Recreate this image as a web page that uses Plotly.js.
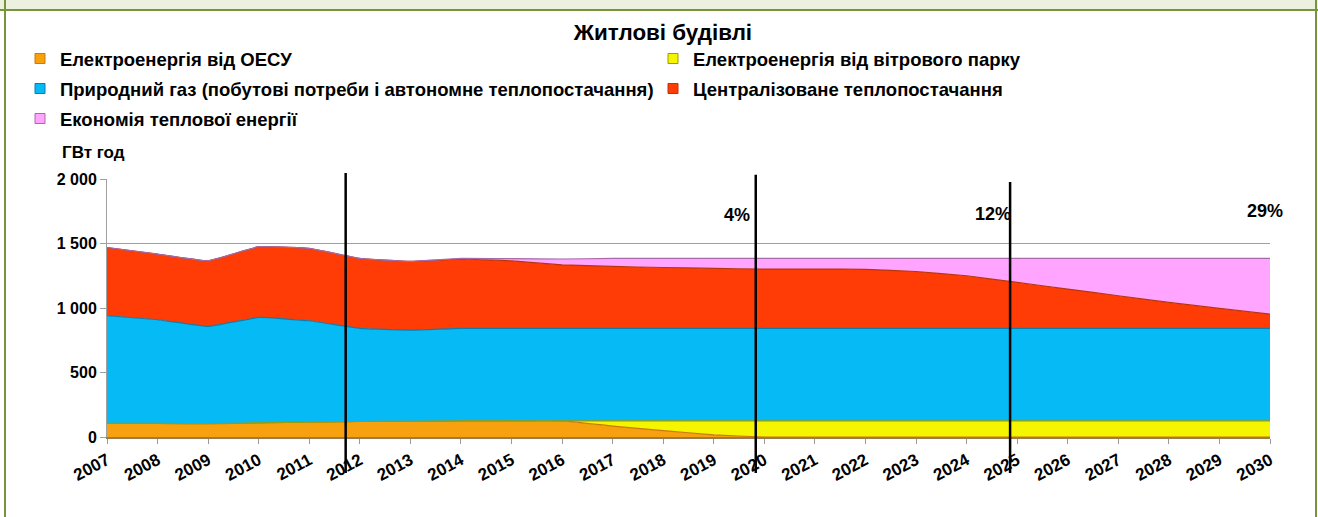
<!DOCTYPE html>
<html>
<head>
<meta charset="utf-8">
<script src="https://cdn.plot.ly/plotly-3.0.1.min.js"></script>
<style>
  body { margin: 0; background: #fff; }
  #chart { position: absolute; left: 0; top: 0; width: 1318px; height: 517px; }
  #band { position: absolute; left: 0; top: 0; width: 1318px; height: 9px; background: #EBF1DE; border-bottom: 2px solid #77933C; }
  #frame { position: absolute; left: 4px; top: 0; width: 1309px; height: 517px; border-left: 2px solid #77933C; border-right: 2px solid #77933C; pointer-events: none; }
</style>
</head>
<body>
<div id="chart"></div>
<div id="band"></div>
<div id="frame"></div>
<script>
// роки
var years = [2007, 2008, 2009, 2010, 2011, 2012, 2013, 2014, 2015, 2016, 2017, 2018,
             2019, 2020, 2021, 2022, 2023, 2024, 2025, 2026, 2027, 2028, 2029, 2030];
var yearLabels = years.map(function (y) { return '<b>' + y + '</b>'; });
var yTicks = [0, 500, 1000, 1500, 2000];
var yTickText = ['0', '500', '1 000', '1 500', '2 000'];

// ГВт год, знизу вгору
var oesu    = [105, 105, 103, 110, 115, 120, 122, 125, 125, 125, 85, 50, 17, 0, 0, 0, 0, 0, 0, 0, 0, 0, 0, 0];
var wind    = [0, 0, 0, 0, 0, 0, 0, 0, 0, 0, 40, 75, 108, 125, 125, 125, 125, 125, 125, 125, 125, 125, 125, 125];
var gas     = [835, 804, 754, 817, 786, 722, 707, 717, 717, 717, 717, 717, 717, 717, 717, 717, 717, 717, 717, 717, 717, 717, 717, 717];
var central = [529, 509, 509, 548, 561, 542, 532, 538, 523, 493, 480, 472, 465, 460, 460, 458, 441, 408, 356, 305, 253, 201, 155, 111];
var economy = [0, 0, 0, 0, 0, 0, 0, 4, 17, 45, 62, 70, 77, 82, 82, 84, 101, 134, 186, 237, 289, 341, 387, 431];

// вертикальні позначки і відсотки
var markYears = [2011.72, 2019.83, 2024.86];
var pctText = ['4%', '12%', '29%'];
var pctX = [2019.46, 2024.52, 2029.9];
var pctY = [1723, 1731, 1754];

var names = ['Електроенергія від ОЕСУ', 'Електроенергія від вітрового парку',
             'Природний газ (побутові потреби і автономне теплопостачання)',
             'Централізоване теплопостачання', 'Економія теплової енергії'];
var fills = ['#F7A10F', '#F5F500', '#05BAF5', '#FF3C05', '#FFA5FF'];
var edges = ['#C77A0A', '#9C9C00', '#0A7FAE', '#B8350C', '#A86AA8'];
var legendOf = ['legend', 'legend', 'legend2', 'legend2', 'legend3'];
var series = [oesu, wind, gas, central, economy];

var font = 'Liberation Sans, Arial, sans-serif';
var data = [];
for (var i = 0; i < series.length; i++) {
    data.push({
        x: years, y: series[i], type: 'scatter', mode: 'lines',
        stackgroup: 'one', fillcolor: fills[i],
        line: {color: edges[i], width: 1.2, shape: 'spline', smoothing: 0.3},
        showlegend: false, hoverinfo: 'y', name: names[i]
    });
}
// тільки для легенди
for (var i = 0; i < series.length; i++) {
    data.push({
        x: [null], y: [null], type: 'scatter', mode: 'markers', name: '<b>' + names[i] + '</b>',
        marker: {symbol: 'square', size: 10, color: fills[i], line: {color: edges[i], width: 1}},
        legend: legendOf[i], showlegend: true
    });
}

var shapes = markYears.map(function (v, k) {
    return {type: 'line', xref: 'x', yref: 'paper', x0: v, x1: v,
            y0: -0.14, y1: [1.023, 1.016, 0.988][k],
            line: {color: '#000', width: 2.5}, layer: 'above'};
});

var annotations = pctText.map(function (t, k) {
    return {x: pctX[k], y: pctY[k], xref: 'x', yref: 'y', text: '<b>' + t + '</b>',
            showarrow: false, font: {size: 18, color: '#000', family: font}};
});
annotations.push({x: -0.0404, y: 1.1008, xref: 'paper', yref: 'paper', xanchor: 'left',
    yanchor: 'middle', text: '<b>ГВт год</b>', showarrow: false,
    font: {size: 17, color: '#000', family: font}});

var legendBase = {orientation: 'h', xanchor: 'left', yanchor: 'middle', x: -0.0748,
    entrywidth: 588, traceorder: 'normal', bgcolor: 'rgba(0,0,0,0)',
    font: {size: 18.5, color: '#000', family: font}, itemclick: false};

var layout = {
    width: 1318, height: 517,
    margin: {l: 107, r: 48, t: 179, b: 80},
    paper_bgcolor: '#fff', plot_bgcolor: '#fff',
    font: {family: font, color: '#000'},
    title: {text: '<b>Житлові будівлі</b>', xref: 'container', x: 0.503,
            yref: 'container', y: 0.938, yanchor: 'middle',
            font: {size: 22.4, color: '#000', family: font}},
    xaxis: {range: [2007, 2030], tickvals: years, ticktext: yearLabels, tickangle: -28,
            showgrid: false, zeroline: false, showline: true, linecolor: '#9A7B4F', linewidth: 2,
            ticks: 'outside', ticklen: 5, tickcolor: '#999',
            tickfont: {size: 17, color: '#000', family: font}},
    yaxis: {range: [0, 2000], tickvals: yTicks,
            ticktext: yTickText.map(function (t) { return '<b>' + t + '</b>'; }),
            showgrid: true, gridcolor: '#A0A0A0',
            zeroline: false, showline: true, linecolor: '#A0A0A0', ticks: 'outside', ticklen: 6,
            tickcolor: '#A0A0A0', tickfont: {size: 16, color: '#000', family: font}},
    legend: Object.assign({}, legendBase, {y: (437 - 59) / 258}),
    legend2: Object.assign({}, legendBase, {y: (437 - 89) / 258}),
    legend3: Object.assign({}, legendBase, {y: (437 - 119) / 258}),
    shapes: shapes,
    annotations: annotations
};

Plotly.newPlot('chart', data, layout, {displayModeBar: false});
</script>
</body>
</html>
